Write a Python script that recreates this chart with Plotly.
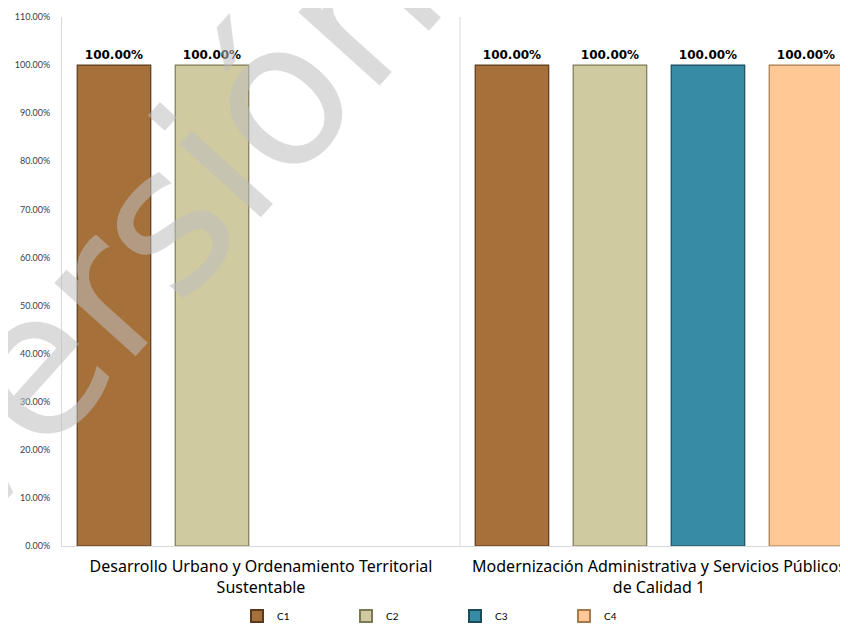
import plotly.graph_objects as go

categories = ["Desarrollo Urbano y Ordenamiento Territorial<br>Sustentable",
              "Modernización Administrativa y Servicios Públicos<br>de Calidad 1"]
x_pos = [0, 1]
series_names = ["C1", "C2", "C3", "C4"]
values = {
    "C1": [1.0, 1.0],
    "C2": [1.0, 1.0],
    "C3": [None, 1.0],
    "C4": [None, 1.0],
}
colors = {"C1": "#A6703A", "C2": "#D0CAA1", "C3": "#388BA5", "C4": "#FFC995"}
edge = {"C1": "#5a3a1a", "C2": "#7d7856", "C3": "#1b4c5c", "C4": "#a87a4e"}

fig = go.Figure()
for s in series_names:
    vals = values[s]
    fig.add_trace(go.Bar(
        x=x_pos, y=vals, name=s,
        marker=dict(color=colors[s], line=dict(color=edge[s], width=1.2)),
        text=[("%.2f%%" % (v * 100)) if v is not None else "" for v in vals],
        textposition="outside", cliponaxis=False,
        textfont=dict(family="DejaVu Sans", size=12, color="#000000", weight="bold"),
    ))

fig.add_shape(type="line", xref="x", yref="paper", x0=0.5, x1=0.5, y0=0, y1=1,
              line=dict(color="#d9d9d9", width=1), layer="below")

fig.add_annotation(text="Versión", xref="paper", yref="paper", x=0.118, y=0.594,
                   xanchor="center", yanchor="middle",
                   showarrow=False, textangle=-48,
                   font=dict(family="DejaVu Sans", size=200, color="rgba(190,190,190,0.55)"))

fig.update_layout(
    width=840, height=616,
    margin=dict(l=54, r=0, t=9, b=78),
    paper_bgcolor="white", plot_bgcolor="white",
    barmode="group", bargap=0.015, bargroupgap=0.25,
    showlegend=True,
    legend=dict(orientation="h", x=0.5, xanchor="center",
                yref="container", y=0.013, yanchor="middle",
                entrywidth=64, itemwidth=30,
                font=dict(family="Lato", size=10, color="#000000"),
                itemsizing="constant"),
    xaxis=dict(range=[-0.5, 1.475], tickvals=x_pos, ticktext=categories,
               showline=True, linecolor="#d9d9d9", showgrid=False, ticks="",
               tickfont=dict(family="Noto Sans", size=16, color="#000000"), zeroline=False,
               ticklabelstandoff=6, automargin=False),
    yaxis=dict(range=[0, 1.1], dtick=0.1, tickformat=".2%", showgrid=False,
               showline=True, linecolor="#d9d9d9", ticks="", zeroline=False,
               tickfont=dict(family="Lato", size=9, color="#404040"), ticklabelstandoff=9,
               automargin=False),
)

fig.write_html("out.html")
